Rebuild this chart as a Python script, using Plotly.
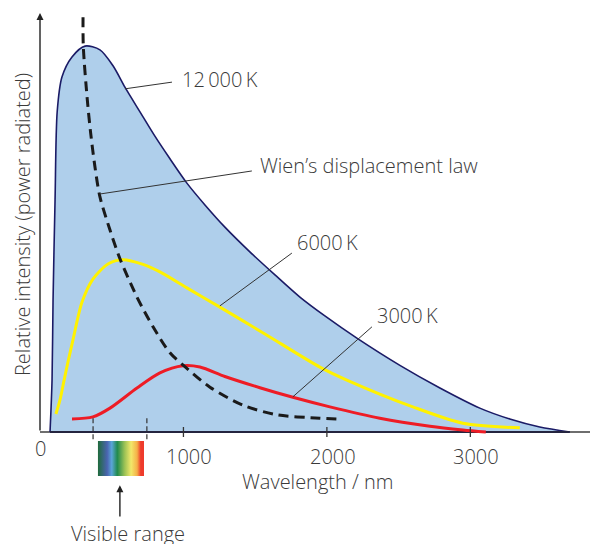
import plotly.graph_objects as go

FONT = "Open Sans"
TXT = "#3a3a3a"
FS = 20

# ---- data (wavelength in nm, relative intensity) ----
wl_12000 = [70, 84, 91, 105, 120, 153, 223, 314, 418, 509, 592, 697, 801, 906, 1024, 1150,
            1289, 1463, 1638, 1812, 1986, 2209, 2509, 2788, 3066, 3275, 3484, 3693]
i_12000 = [0, 12.4, 31.5, 55.4, 76.5, 84.7, 89.5, 92.1, 91.2, 87.4, 82.3, 76.4, 70.6, 65.2, 59.4, 54.2,
           48.9, 43.0, 37.5, 32.2, 27.7, 22.4, 15.9, 10.5, 5.7, 3.1, 1.2, 0]

wl_6000 = [111, 139, 167, 195, 230, 293, 369, 474, 578, 718, 836, 1024, 1254, 1568, 1951,
           2139, 2599, 2948, 3345]
i_6000 = [4.3, 7.6, 12.2, 16.7, 22.0, 31.0, 36.5, 40.1, 41.1, 40.0, 38.2, 34.4, 29.8, 23.4, 15.5,
          12.4, 6.0, 2.1, 1.0]

wl_3000 = [223, 369, 488, 676, 836, 997, 1115, 1289, 1533, 1763, 2021, 2369, 2718, 2948, 3108]
i_3000 = [3.1, 3.6, 5.7, 10.5, 14.1, 15.8, 15.5, 13.25, 10.57, 8.28, 6.0, 3.3, 1.4, 0.5, 0]

wl_wien = [300, 302, 330, 353, 383, 418, 488, 558, 676, 788, 906, 1010, 1185, 1415,
           1652, 1951, 2070]
i_wien = [99.0, 91.9, 79.2, 71.4, 63.3, 56.1, 48.2, 41.3, 32.2, 25.1, 18.9, 15.6, 10.7, 6.4,
          4.1, 3.3, 3.1]

tick_values = [1000, 2000, 3000]
tick_labels = ["1000", "2000", "3000"]
visible_bounds = [370, 745]
spectrum_range = [404, 725]
spectrum_colors = ["#1f6b3b", "#4a64b0", "#5aa6d8", "#218a4e", "#9cc255",
                   "#f2e86a", "#f5b048", "#ee3b2c", "#ee3b2c"]
spectrum_stops = [0.0, 0.2, 0.3, 0.42, 0.58, 0.72, 0.85, 0.93, 1.0]

labels = ["12\u2009000\u2009K", "Wien\u2019s displacement law", "6000\u2009K", "3000\u2009K"]
label_pos = [(976, 84.2), (1519, 63.5), (1777, 45.3), (2335, 27.7)]
leader_from = [(592, 81.9), (418, 56.8), (1254, 30.1), (1763, 8.4)]
leader_to = [(920, 83.5), (1477, 62.3), (1756, 42.7), (2314, 25.1)]

SM = 0.8
fig = go.Figure()

# 12000 K filled curve
fig.add_trace(go.Scatter(
    x=wl_12000, y=i_12000, mode="lines", fill="tozeroy", fillcolor="#afcfeb",
    line=dict(color="#1b1b66", width=1.6, shape="spline", smoothing=SM),
    hoverinfo="skip", showlegend=False))
# dark baseline beneath the filled area
fig.add_trace(go.Scatter(
    x=[wl_12000[0], wl_12000[-1]], y=[0, 0], mode="lines",
    line=dict(color="#24243f", width=2.2), hoverinfo="skip", showlegend=False))

# 6000 K
fig.add_trace(go.Scatter(x=wl_6000, y=i_6000, mode="lines",
    line=dict(color="#fff200", width=3, shape="spline", smoothing=SM),
    hoverinfo="skip", showlegend=False))

# 3000 K
fig.add_trace(go.Scatter(x=wl_3000, y=i_3000, mode="lines",
    line=dict(color="#ee1c25", width=3, shape="spline", smoothing=SM),
    hoverinfo="skip", showlegend=False))

# Wien's law
fig.add_trace(go.Scatter(x=wl_wien, y=i_wien, mode="lines",
    line=dict(color="#1a1a1a", width=3, dash="10px,6px", shape="spline", smoothing=SM),
    hoverinfo="skip", showlegend=False))

# ticks crossing the axis
tx, ty = [], []
for v in tick_values:
    tx += [v, v, None]
    ty += [1.2, -1.2, None]
fig.add_trace(go.Scatter(x=tx, y=ty, mode="lines", line=dict(color="#333", width=1.3),
                         hoverinfo="skip", showlegend=False))

# visible range markers
vx, vy = [], []
for v in visible_bounds:
    vx += [v, v, None]
    vy += [3.3, -1.9, None]
fig.add_trace(go.Scatter(x=vx, y=vy, mode="lines",
    line=dict(color="#333", width=1.2, dash="5px,3px"),
    hoverinfo="skip", showlegend=False))

# spectrum strip
s0, s1 = spectrum_range
fig.add_trace(go.Scatter(
    x=[s0, s1, s1, s0, s0], y=[-2.15, -2.15, -10.5, -10.5, -2.15],
    mode="lines", fill="toself", line=dict(width=0),
    fillgradient=dict(type="horizontal",
                      colorscale=[[s, c] for s, c in zip(spectrum_stops, spectrum_colors)]),
    hoverinfo="skip", showlegend=False))

shapes = []
for (x0, y0), (x1, y1) in zip(leader_from, leader_to):
    shapes.append(dict(type="line", xref="x", yref="y", x0=x0, y0=y0, x1=x1, y1=y1,
                       line=dict(color="#333", width=1)))

font = dict(size=FS, color=TXT, family=FONT, weight=300)
ann = []
for t, (x, y) in zip(labels, label_pos):
    ann.append(dict(x=x, y=y, xref="x", yref="y", text=t, showarrow=False,
                    xanchor="left", yanchor="middle", font=font))
for v, t in zip(tick_values, tick_labels):
    ann.append(dict(x=v, y=-5.73, xref="x", yref="y", text=t, showarrow=False, xshift=6,
                    xanchor="center", yanchor="middle", font=font))
ann.append(dict(x=0, y=-3.9, xref="x", yref="y", text="0", showarrow=False, xshift=0.5,
                xanchor="center", yanchor="middle", font=font))
ann.append(dict(x=1941, y=-11.8, xref="x", yref="y", text="Wavelength / nm", showarrow=False,
                xanchor="center", yanchor="middle", font=font))
ann.append(dict(x=610, y=-24.2, xref="x", yref="y", text="Visible range", showarrow=False,
                xanchor="center", yanchor="middle", font=font))
ann.append(dict(x=-18 / 558, y=49.4, xref="paper", yref="y",
                text="Relative intensity (power radiated)",
                showarrow=False, textangle=-90, xanchor="center", yanchor="middle", font=font))
# y axis arrow
ann.append(dict(x=0, y=100, ax=0, ay=0, xref="x", yref="y", axref="x", ayref="y", text="",
                showarrow=True, arrowhead=2, arrowsize=1, arrowwidth=1.4, arrowcolor="#222"))
# visible range arrow
ann.append(dict(x=557, y=-12.7, ax=557, ay=-20.5, xref="x", yref="y", axref="x", ayref="y",
                text="", showarrow=True, arrowhead=2, arrowsize=1, arrowwidth=1.4,
                arrowcolor="#222"))

# page body has an 8px margin, so the figure is 8px smaller than the window
fig.update_layout(
    width=590, height=536,
    margin=dict(l=32, r=0, t=5, b=0),
    paper_bgcolor="white", plot_bgcolor="white",
    xaxis=dict(range=[0, 3890], showgrid=False, zeroline=False, showticklabels=False,
               showline=False, ticks="", fixedrange=True),
    yaxis=dict(range=[-26.73, 100], showgrid=False, zeroline=True, zerolinecolor="#6e6e6e",
               zerolinewidth=2.2, showticklabels=False, showline=False, ticks="",
               fixedrange=True),
    shapes=shapes, annotations=ann,
    font=dict(family=FONT, color=TXT),
)

fig.write_html("out.html")
